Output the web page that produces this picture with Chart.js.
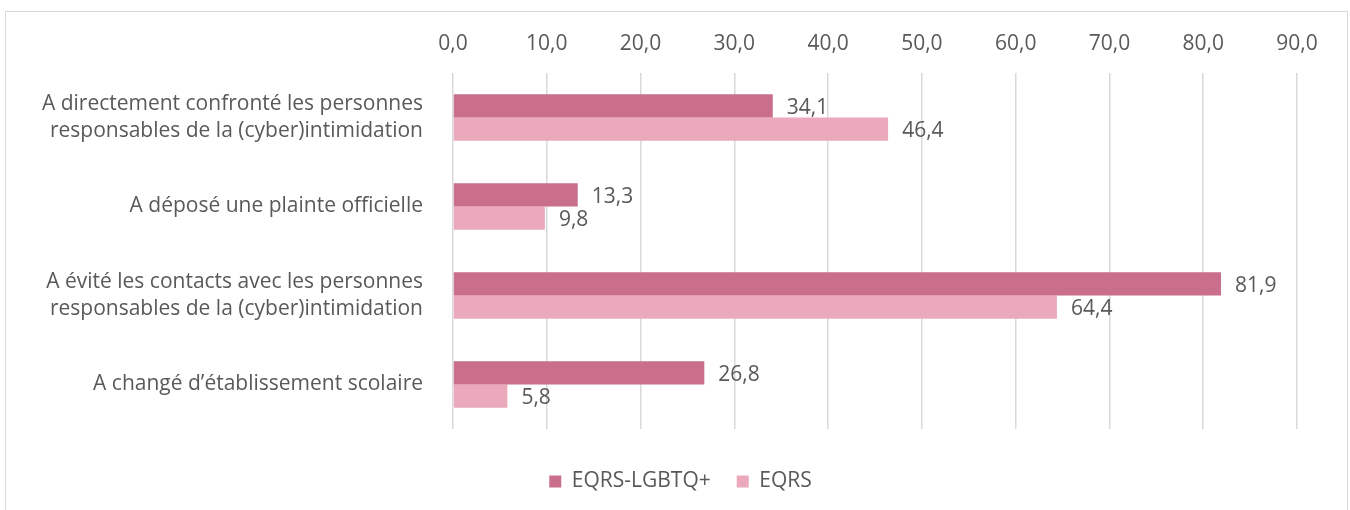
<!DOCTYPE html>
<html lang="fr">
<head>
    <meta charset="UTF-8">
    <title>Réactions à la (cyber)intimidation</title>
    <style>
        body { margin: 0; background: #fff; }
        .wrap { position: relative; width: 1350px; height: 510px; overflow: hidden; }
        .frame { position: absolute; left: 5px; top: 11px; width: 1341px; height: 520px; border: 1px solid #d9d9d9; }
        canvas { position: absolute; left: 0; top: 0; }
    </style>
</head>
<body>
    <div class="wrap">
        <div class="frame"></div>
        <canvas id="graphique" width="1350" height="510"></canvas>
    </div>

    <script src="https://cdn.jsdelivr.net/npm/chart.js"></script>
    <script>
        // Données
        const categories = [
            ["A directement confronté les personnes", "responsables de la (cyber)intimidation"],
            "A déposé une plainte officielle",
            ["A évité les contacts avec les personnes", "responsables de la (cyber)intimidation"],
            "A changé d\u2019établissement scolaire"
        ];
        const lgbtq = [34.1, 13.3, 81.9, 26.8];
        const eqrs = [46.4, 9.8, 64.4, 5.8];
        const ticksX = [0, 10, 20, 30, 40, 50, 60, 70, 80, 90];

        const texte = "#595959";
        const police = "'Open Sans', sans-serif";
        const virgule = v => Number(v).toFixed(1).replace(".", ",");

        // Étiquettes de valeurs à droite des barres
        const etiquettes = {
            id: "etiquettes",
            afterDatasetsDraw(chart) {
                const ctx = chart.ctx;
                ctx.save();
                ctx.fillStyle = texte;
                ctx.font = "21px " + police;
                ctx.textAlign = "left";
                ctx.textBaseline = "middle";
                chart.data.datasets.forEach((ds, i) => {
                    chart.getDatasetMeta(i).data.forEach((bar, j) => {
                        ctx.fillText(virgule(ds.data[j]), bar.x + 14, bar.y + 2);
                    });
                });
                ctx.restore();
            }
        };

        // Légende un peu décalée vers la droite, comme dans l'original
        const decalerLegende = {
            id: "decalerLegende",
            afterLayout(chart) {
                chart.legend.left += 32;
                chart.legend.right += 32;
            }
        };

        new Chart(document.getElementById("graphique"), {
            type: "bar",
            data: {
                labels: categories,
                datasets: [
                    { label: "EQRS-LGBTQ+", data: lgbtq, backgroundColor: "#c96f8b" },
                    { label: "EQRS", data: eqrs, backgroundColor: "#ebaabb" }
                ]
            },
            options: {
                indexAxis: "y",
                responsive: false,
                animation: false,
                categoryPercentage: 0.52,
                barPercentage: 1.0,
                layout: { padding: { top: 20, right: 53, bottom: 8, left: 0 } },
                scales: {
                    x: {
                        position: "top",
                        min: 0,
                        max: 90,
                        afterBuildTicks: scale => { scale.ticks = ticksX.map(v => ({ value: v })); },
                        afterFit: scale => { scale.height = 53; },
                        ticks: {
                            color: texte,
                            font: { size: 21, family: police },
                            padding: 16,
                            callback: v => virgule(v)
                        },
                        grid: { color: "#d9d9d9", lineWidth: 1.5, drawTicks: false },
                        border: { display: false }
                    },
                    y: {
                        afterFit: scale => { scale.width = 453; },
                        ticks: {
                            color: texte,
                            font: { size: 21, family: police, lineHeight: 1.29 },
                            padding: 22
                        },
                        grid: { display: false },
                        border: { display: false }
                    }
                },
                plugins: {
                    legend: {
                        position: "bottom",
                        title: { display: true, text: "", font: { size: 16, lineHeight: 1 }, padding: 0 },
                        labels: {
                            color: texte,
                            font: { size: 21, family: police },
                            boxWidth: 12,
                            boxHeight: 12,
                            padding: 26
                        }
                    },
                    tooltip: { enabled: false }
                }
            },
            plugins: [etiquettes, decalerLegende]
        });
    </script>
</body>
</html>
